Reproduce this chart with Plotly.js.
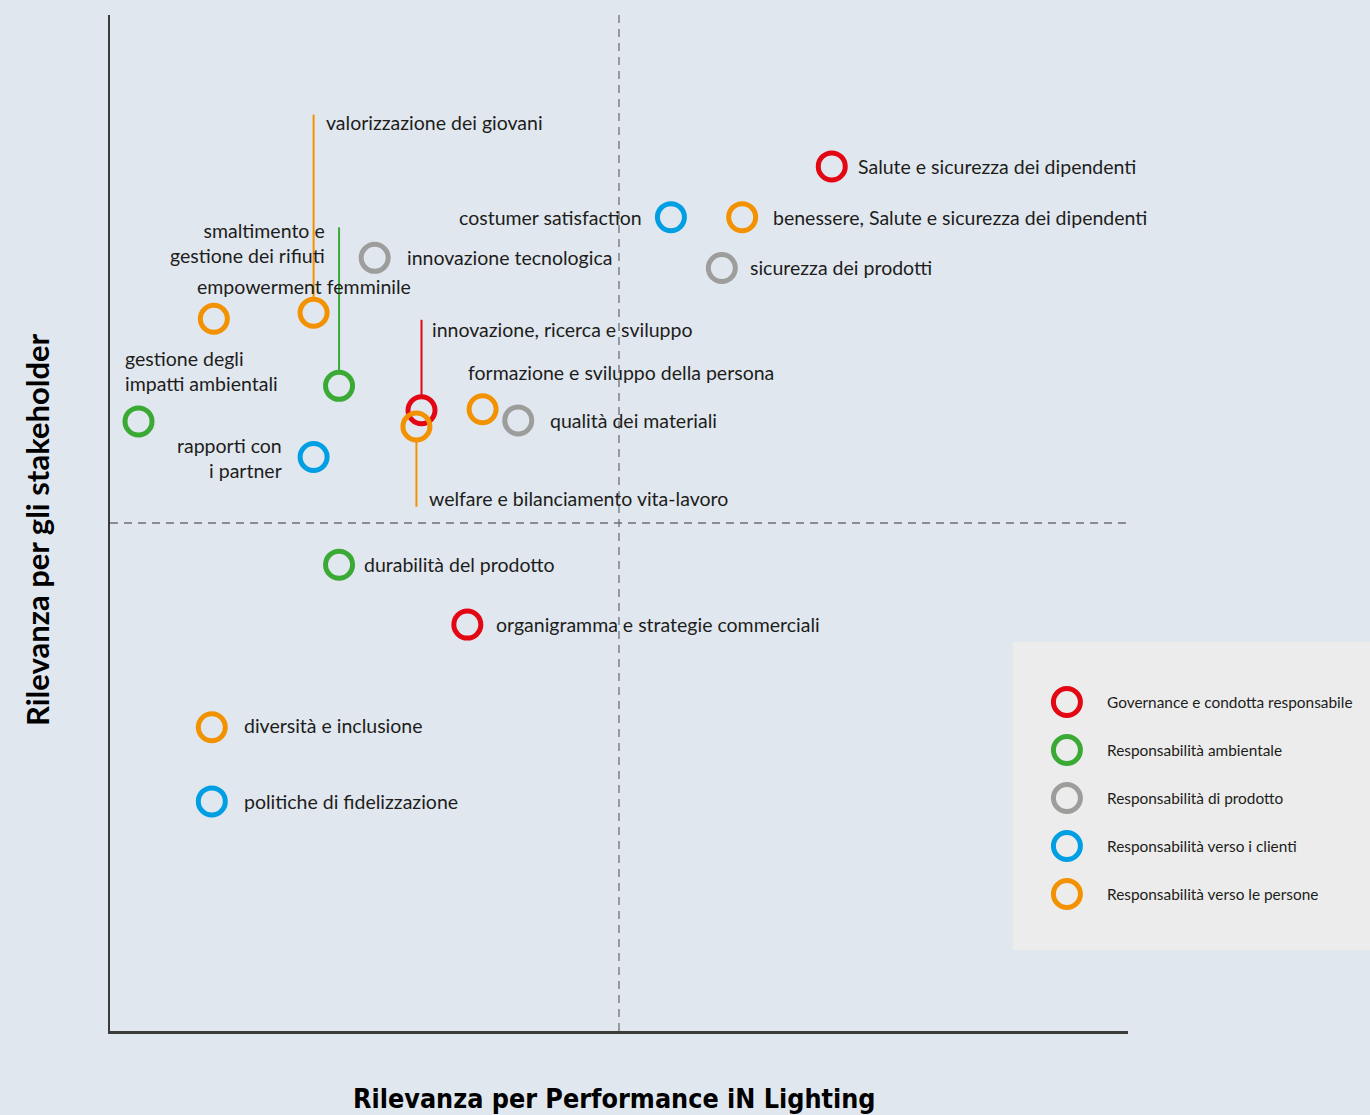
<!DOCTYPE html>
<html>
<head>
<meta charset="utf-8">
<script src="https://cdn.plot.ly/plotly-3.0.1.min.js"></script>
<style>
	body { margin: 0; background: #e1e7ef; }
	#chart { width: 1370px; height: 1115px; }
</style>
</head>
<body>
<div id="chart"></div>
<script>
// categories (legend order)
var groupNames = [
	'Governance e condotta responsabile',
	'Responsabilità ambientale',
	'Responsabilità di prodotto',
	'Responsabilità verso i clienti',
	'Responsabilità verso le persone'
];
var groupColors = ['#e30613', '#3aaa35', '#9d9d9c', '#009fe3', '#f39200'];

// topics per category, x = Performance iN Lighting, y = stakeholder
var govNames = ['Salute e sicurezza dei dipendenti', 'innovazione, ricerca e sviluppo', 'organigramma e strategie commerciali'];
var govX = [7.09, 3.06, 3.51];
var govY = [8.51, 6.11, 4.00];

var envNames = ['gestione degli<br>impatti ambientali', 'smaltimento e<br>gestione dei rifiuti', 'durabilità del prodotto'];
var envX = [0.28, 2.25, 2.25];
var envY = [6.00, 6.35, 4.59];

var prodNames = ['innovazione tecnologica', 'sicurezza dei prodotti', 'qualità dei materiali'];
var prodX = [2.60, 6.01, 4.01];
var prodY = [7.61, 7.51, 6.01];

var cliNames = ['costumer satisfaction', 'rapporti con<br>i partner', 'politiche di fidelizzazione'];
var cliX = [5.51, 2.00, 1.00];
var cliY = [8.01, 5.65, 2.26];

var pplNames = ['benessere, Salute e sicurezza dei dipendenti', 'valorizzazione dei giovani', 'empowerment femminile', 'formazione e sviluppo della persona', 'welfare e bilanciamento vita-lavoro', 'diversità e inclusione'];
var pplX = [6.21, 2.00, 1.02, 3.66, 3.01, 1.00];
var pplY = [8.01, 7.07, 7.01, 6.12, 5.95, 2.99];

// leader lines: topic and far end of the line (y)
var stemNames = ['valorizzazione dei giovani', 'smaltimento e<br>gestione dei rifiuti', 'innovazione, ricerca e sviluppo', 'welfare e bilanciamento vita-lavoro'];
var stemEndY = [9.02, 7.91, 7.00, 5.16];

var series = [
	{names: govNames, x: govX, y: govY},
	{names: envNames, x: envX, y: envY},
	{names: prodNames, x: prodX, y: prodY},
	{names: cliNames, x: cliX, y: cliY},
	{names: pplNames, x: pplX, y: pplY}
];

// label placement, pixels from the circle centre [anchor, dx, dy(down)]
var labelPos = {
	'Salute e sicurezza dei dipendenti': ['left', 24, 0],
	'innovazione, ricerca e sviluppo': ['left', 8, -81],
	'organigramma e strategie commerciali': ['left', 27, 0],
	'gestione degli<br>impatti ambientali': ['left', -16, -50],
	'smaltimento e<br>gestione dei rifiuti': ['right', -12, -143],
	'durabilità del prodotto': ['left', 23, 0],
	'innovazione tecnologica': ['left', 30, 0],
	'sicurezza dei prodotti': ['left', 26, 0],
	'qualità dei materiali': ['left', 30, 0],
	'costumer satisfaction': ['right', -27, 0],
	'rapporti con<br>i partner': ['right', -30, 1],
	'politiche di fidelizzazione': ['left', 30, 0],
	'benessere, Salute e sicurezza dei dipendenti': ['left', 29, 0],
	'valorizzazione dei giovani': ['left', 10, -190],
	'empowerment femminile': ['left', -19, -32],
	'formazione e sviluppo della persona': ['left', -17, -37],
	'welfare e bilanciamento vita-lavoro': ['left', 11, 72],
	'diversità e inclusione': ['left', 30, -2]
};

var BG = '#e1e7ef';
var TXT = '#1d1d1b';
var LABEL_FONT = {family: 'Lato, "Open Sans", sans-serif', size: 19.5, color: TXT};
var W = 1370, H = 1115;
var R = 0.15; // circle radius in data units

var data = [];
var annotations = [];

// leader lines first so the circles sit on top
stemNames.forEach((nm, i) => {
	series.forEach((s, g) => {
		var idx = s.names.indexOf(nm);
		if(idx < 0) return;
		var y0 = s.y[idx];
		var start = stemEndY[i] > y0 ? y0 + R : y0 - R;
		data.push({
			x: [s.x[idx], s.x[idx]],
			y: [start, stemEndY[i]],
			mode: 'lines',
			line: {color: groupColors[g], width: 2},
			hoverinfo: 'skip',
			showlegend: false
		});
	});
});

series.forEach((s, g) => {
	data.push({
		x: s.x,
		y: s.y,
		text: s.names,
		name: groupNames[g],
		mode: 'markers',
		type: 'scatter',
		marker: {symbol: 'circle-open', size: 27, color: groupColors[g], line: {width: 5}},
		hoverinfo: 'text',
		showlegend: false
	});
	s.names.forEach((nm, i) => {
		var p = labelPos[nm];
		annotations.push({
			x: s.x[i], y: s.y[i], xref: 'x', yref: 'y',
			text: nm,
			showarrow: false,
			xanchor: p[0],
			yanchor: 'middle',
			align: p[0],
			xshift: p[1],
			yshift: -p[2],
			font: LABEL_FONT
		});
	});
});

// legend drawn on its own small axis
var legendIdx = groupNames.map((g, i) => i);
data.push({
	x: legendIdx.map(() => 0.151),
	y: legendIdx,
	xaxis: 'x2', yaxis: 'y2',
	mode: 'markers',
	marker: {symbol: 'circle-open', size: 27, color: groupColors, line: {width: 5}},
	hoverinfo: 'skip',
	showlegend: false
});
groupNames.forEach((g, i) => {
	annotations.push({
		x: 0.258, y: i, xref: 'x2', yref: 'y2',
		text: g, showarrow: false, xanchor: 'left', yanchor: 'middle',
		font: {family: 'Lato, "Open Sans", sans-serif', size: 15.4, color: TXT}
	});
});

// axis titles
annotations.push({
	x: 614 / W, y: 1 - 1098 / H, xref: 'paper', yref: 'paper',
	text: '<b>Rilevanza per Performance iN Lighting</b>', showarrow: false,
	xanchor: 'center', yanchor: 'middle',
	font: {family: '"DejaVu Sans Condensed", "Liberation Sans Narrow", sans-serif', size: 26.7, color: '#000'}
});
annotations.push({
	x: 37 / W, y: 1 - 530 / H, xref: 'paper', yref: 'paper',
	text: '<b>Rilevanza per gli stakeholder</b>', showarrow: false, textangle: -90,
	xanchor: 'center', yanchor: 'middle',
	font: {family: 'Lato, sans-serif', size: 31, color: '#000'}
});

var axisBase = {
	range: [0, 10], showgrid: false, zeroline: false, showticklabels: false, ticks: '',
	showline: true, linecolor: '#3c3c3b', linewidth: 2, fixedrange: true
};

var layout = {
	width: W, height: H,
	margin: {l: 0, r: 0, t: 0, b: 0},
	paper_bgcolor: BG,
	plot_bgcolor: 'rgba(0,0,0,0)',
	showlegend: false,
	xaxis: Object.assign({}, axisBase, {domain: [110 / W, 1128 / W], linewidth: 2.5}),
	yaxis: Object.assign({}, axisBase, {domain: [1 - 1031 / H, 1 - 15 / H]}),
	xaxis2: {domain: [1013 / W, 1], range: [0, 1], visible: false, fixedrange: true},
	yaxis2: {domain: [1 - 950 / H, 1 - 642 / H], range: [5.167, -1.25], visible: false, fixedrange: true},
	shapes: [
		{type: 'line', xref: 'x', yref: 'y domain', x0: 5, x1: 5, y0: 0, y1: 1,
			line: {color: '#6f6f6e', width: 1.3, dash: '8px,6px'}},
		{type: 'line', xref: 'x domain', yref: 'y', x0: 0, x1: 1, y0: 5, y1: 5,
			line: {color: '#6f6f6e', width: 1.3, dash: '8px,6px'}},
		{type: 'rect', xref: 'x2 domain', yref: 'y2 domain', x0: 0, x1: 1, y0: 0, y1: 1,
			fillcolor: '#ececec', line: {width: 0}, layer: 'below'}
	],
	annotations: annotations
};

Plotly.newPlot('chart', data, layout, {displayModeBar: false, staticPlot: true});
</script>
</body>
</html>
